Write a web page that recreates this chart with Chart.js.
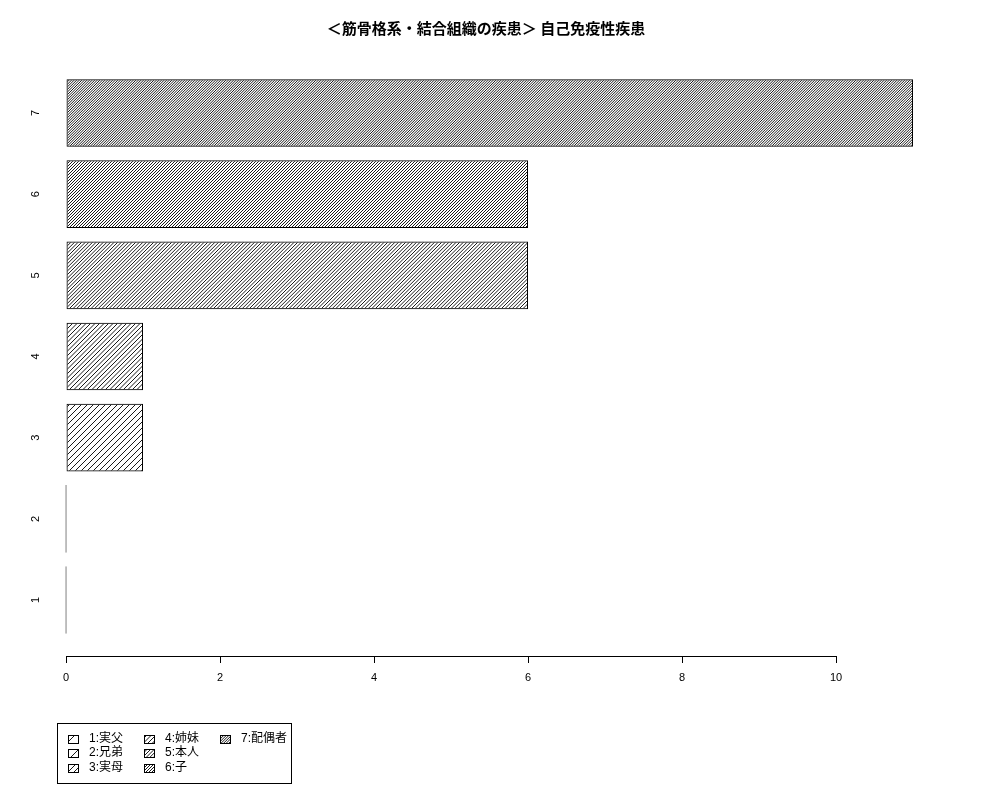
<!DOCTYPE html>
<html>
<head>
<meta charset="utf-8">
<script src="https://cdn.jsdelivr.net/npm/chart.js@4"></script>
<style>
  html, body { margin: 0; padding: 0; background: #fff; }
  #wrap { width: 1000px; height: 800px; }
</style>
</head>
<body>
<div id="wrap"><canvas id="chart" width="1000" height="800"></canvas></div>
<script>
'use strict';

// ── Data ──────────────────────────────────────────────────
const TITLE      = '＜筋骨格系・結合組織の疾患＞ 自己免疫性疾患';
const categories = ['1', '2', '3', '4', '5', '6', '7'];
const relations  = ['実父', '兄弟', '実母', '姉妹', '本人', '子', '配偶者'];
const counts     = [0, 0, 1, 1, 6, 6, 11];
const xTicks     = [0, 2, 4, 6, 8, 10];

const FONT = "'Liberation Sans', 'Noto Sans CJK JP', sans-serif";

// ── Hatch patterns (denser for higher category) ───────────
function hatch(step) {
    const size = 36;
    const c = document.createElement('canvas');
    c.width = size; c.height = size;
    const g = c.getContext('2d');
    g.strokeStyle = '#000';
    g.lineWidth = 0.9;
    g.beginPath();
    for (let x0 = -size; x0 <= size + 0.01; x0 += step) {
        g.moveTo(x0, size);
        g.lineTo(x0 + size, 0);
    }
    g.stroke();
    return document.getElementById('chart').getContext('2d').createPattern(c, 'repeat');
}
const patterns = categories.map((c, i) => hatch(18 / (i + 1)));

// ── Plugins ───────────────────────────────────────────────
const axisLine = {
    id: 'axisLine',
    afterDraw(chart) {
        const { ctx, chartArea, scales: { x } } = chart;
        const y = Math.round(chartArea.bottom) + 0.5;
        ctx.save();
        ctx.strokeStyle = '#000';
        ctx.lineWidth = 1;
        ctx.beginPath();
        ctx.moveTo(x.getPixelForValue(xTicks[0]), y);
        ctx.lineTo(x.getPixelForValue(xTicks[xTicks.length - 1]), y);
        ctx.stroke();
        ctx.restore();
    }
};

// R-style boxed legend, filled column by column (3 rows)
const boxLegend = {
    id: 'boxLegend',
    afterDraw(chart) {
        const { ctx } = chart;
        const left = 57, top = 723, w = 234, h = 60;
        const colX = [68, 144, 220];
        const rowY = [738.5, 753, 767.5];
        ctx.save();
        ctx.strokeStyle = '#000';
        ctx.lineWidth = 1;
        ctx.strokeRect(left + 0.5, top + 0.5, w, h);
        ctx.font = '12px ' + FONT;
        ctx.textBaseline = 'middle';
        categories.forEach((cat, i) => {
            const col = Math.floor(i / 3), row = i % 3;
            const sx = colX[col], sy = Math.round(rowY[row]);
            ctx.fillStyle = patterns[i];
            ctx.fillRect(sx, sy - 4, 10, 8);
            ctx.strokeRect(sx + 0.5, sy - 3.5, 10, 8);
            ctx.fillStyle = '#000';
            ctx.fillText(cat + ':' + relations[i], sx + 21, sy);
        });
        ctx.restore();
    }
};

// ── Chart ─────────────────────────────────────────────────
new Chart(document.getElementById('chart'), {
    type: 'bar',
    data: {
        datasets: [{
            data: categories.map((c, i) => ({ x: counts[i], y: +c })),
            backgroundColor: patterns,
            borderColor: '#000',
            borderWidth: 1,
            borderSkipped: false,
            minBarLength: 1,
            categoryPercentage: 1,
            barPercentage: 1 / 1.2,
        }]
    },
    options: {
        indexAxis: 'y',
        responsive: false,
        animation: false,
        devicePixelRatio: 1,
        layout: { padding: { left: 0, right: 28, top: 0, bottom: 110 } },
        plugins: {
            legend: { display: false },
            tooltip: { enabled: false },
            title: {
                display: true,
                text: TITLE,
                color: '#000',
                font: { family: "'Noto Sans CJK JP', sans-serif", size: 15, weight: 'bold' },
                padding: { top: 19, bottom: 20 }
            }
        },
        scales: {
            x: {
                type: 'linear',
                min: -0.286,
                max: 11.766,
                afterBuildTicks: s => { s.ticks = xTicks.map(v => ({ value: v })); },
                afterFit: s => { s.height = 34; },
                border: { display: false },
                grid: { drawOnChartArea: false, drawTicks: true, tickLength: 7, color: '#000' },
                ticks: { color: '#000', font: { family: FONT, size: 11 }, padding: 8, maxRotation: 0 }
            },
            y: {
                type: 'linear',
                offset: false,
                min: 0.310,
                max: 7.690,
                afterBuildTicks: s => { s.ticks = categories.map(c => ({ value: +c })); },
                afterFit: s => { s.width = 44; },
                border: { display: false },
                grid: { display: false, drawTicks: false, offset: false },
                ticks: {
                    color: '#000',
                    font: { family: FONT, size: 11 },
                    padding: 5,
                    minRotation: 90,
                    maxRotation: 90,
                    crossAlign: 'center',
                    callback: v => String(v)
                }
            }
        }
    },
    plugins: [axisLine, boxLegend]
});
</script>
</body>
</html>
